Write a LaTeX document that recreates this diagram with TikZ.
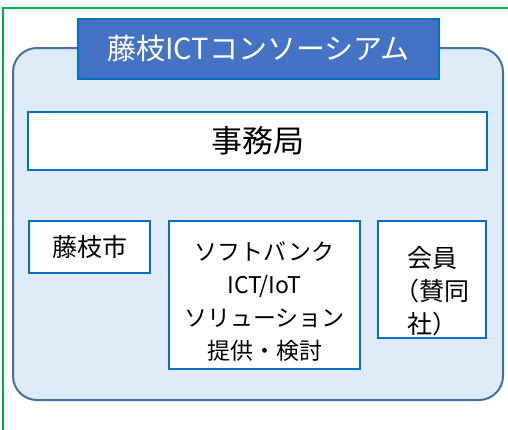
\documentclass[tikz,border=0pt]{standalone}
\usepackage{fontspec}
\setmainfont{Noto Sans CJK JP}
\usetikzlibrary{positioning}
\definecolor{frame_green}{HTML}{00B050}
\definecolor{panel_fill}{HTML}{DEEBF7}
\definecolor{panel_border}{HTML}{41719C}
\definecolor{title_fill}{HTML}{4472C4}
\definecolor{box_border}{HTML}{0070C0}

\begin{document}
\begin{tikzpicture}[
                        x=1pt, y=-1pt,
                        panel/.style={draw=panel_border, fill=panel_fill, line width=2pt, rounded corners=24pt, minimum width=490pt, minimum height=352pt},
                        title/.style={draw=box_border, fill=title_fill, text=white, line width=2pt, minimum width=361pt, minimum height=60pt, font=\fontsize{29}{34}\selectfont},
                        office/.style={draw=box_border, fill=white, line width=2pt, minimum width=459pt, minimum height=58pt, font=\fontsize{31}{36}\selectfont},
                        member/.style={draw=box_border, fill=white, line width=2pt, align=center, inner sep=0pt, font=\fontsize{25}{33}\selectfont},
                        node distance=17pt,
                    ]
                        \useasboundingbox (0,0) rectangle (508,429);
                        \draw[frame_green, line width=2pt] (3,431) -- (3,8) -- (510,8); % outer frame

                        % nodes
                        \node[panel] (consortium) at (258,224) {};
                        \node[title] (consortium_title) at (258.5,49) {藤枝ICTコンソーシアム};
                        \node[office] (office) at (257.5,141) {事務局};
                        \node[member, minimum width=121pt, minimum height=52pt, anchor=north west] (city) at (28,220) {藤枝市};
                        \node[member, minimum width=191pt, minimum height=148pt, font=\fontsize{23}{33}\selectfont] (softbank) [right=of city.north east, anchor=north west] {\rule{0pt}{32pt}ソフトバンク\\ICT/IoT\\ソリューション\\提供・検討};
                        \node[member, minimum width=108pt, minimum height=117pt] (members) [right=16pt of softbank.north east, anchor=north west] {\rule{0pt}{44pt}会員\\（賛同\\社）};
                    \end{tikzpicture}
\end{document}
